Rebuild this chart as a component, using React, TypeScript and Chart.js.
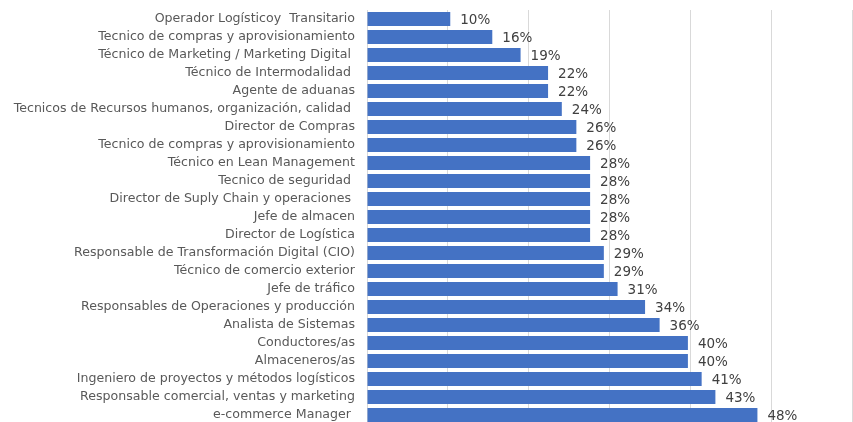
import React, { useEffect, useRef } from "react";
import { Chart, registerables } from "chart.js";

Chart.register(...registerables);

const categories: string[] = [
  "Operador Logísticoy  Transitario",
  "Tecnico de compras y aprovisionamiento",
  "Técnico de Marketing / Marketing Digital ",
  "Técnico de Intermodalidad ",
  "Agente de aduanas",
  "Tecnicos de Recursos humanos, organización, calidad ",
  "Director de Compras",
  "Tecnico de compras y aprovisionamiento",
  "Técnico en Lean Management",
  "Tecnico de seguridad ",
  "Director de Suply Chain y operaciones ",
  "Jefe de almacen",
  "Director de Logística",
  "Responsable de Transformación Digital (CIO)",
  "Técnico de comercio exterior",
  "Jefe de tráfico",
  "Responsables de Operaciones y producción",
  "Analista de Sistemas",
  "Conductores/as",
  "Almaceneros/as",
  "Ingeniero de proyectos y métodos logísticos",
  "Responsable comercial, ventas y marketing",
  "e-commerce Manager ",
];

const values: number[] = [
  10.3, 15.5, 19.0, 22.4, 22.4, 24.1, 25.9, 25.9, 27.6, 27.6, 27.6, 27.6,
  27.6, 29.3, 29.3, 31.0, 34.4, 36.2, 39.7, 39.7, 41.4, 43.1, 48.3,
];

const xTicks = { min: 0, max: 60, step: 10 };

const dataLabels = {
  id: "dataLabels",
  afterDatasetsDraw(chart: any) {
    const ctx = chart.ctx;
    const meta = chart.getDatasetMeta(0);
    ctx.save();
    ctx.font = '13.5px "DejaVu Sans"';
    ctx.fillStyle = "#404040";
    ctx.textAlign = "left";
    ctx.textBaseline = "middle";
    meta.data.forEach((bar: any, i: number) => {
      ctx.fillText(Math.round(values[i]) + "%", bar.x + 10, bar.y + 1);
    });
    ctx.restore();
  },
};

export default function App() {
  const ref = useRef<HTMLCanvasElement | null>(null);
  useEffect(() => {
    document.body.style.margin = "0";
    const chart = new Chart(ref.current as HTMLCanvasElement, {
      type: "bar",
      data: {
        labels: categories,
        datasets: [
          {
            data: values,
            backgroundColor: "#4472C4",
            borderWidth: 0,
            barPercentage: 0.78,
            categoryPercentage: 1,
          },
        ],
      },
      options: {
        indexAxis: "y",
        responsive: false,
        animation: false,
        devicePixelRatio: 1,
        layout: { padding: { top: 10, right: 1, bottom: 6, left: 0 } },
        plugins: { legend: { display: false }, tooltip: { enabled: false } },
        scales: {
          x: {
            min: xTicks.min,
            max: xTicks.max,
            ticks: { display: false, stepSize: xTicks.step },
            grid: { color: "#d9d9d9", drawTicks: false, lineWidth: 1 },
            border: { display: false },
          },
          y: {
            afterFit(scale: any) {
              scale.width = 367;
              scale.paddingTop = 0;
              scale.paddingBottom = 0;
            },
            ticks: {
              autoSkip: false,
              padding: 12,
              color: "#595959",
              font: { family: "DejaVu Sans", size: 12.6 },
            },
            grid: { display: false, drawTicks: false },
            border: { display: false },
          },
        },
      },
      plugins: [dataLabels],
    });
    return () => chart.destroy();
  }, []);
  return (
    <div style={{ width: 853, height: 422, overflow: "hidden", background: "#fff" }}>
      <canvas ref={ref} width={853} height={430} />
    </div>
  );
}
